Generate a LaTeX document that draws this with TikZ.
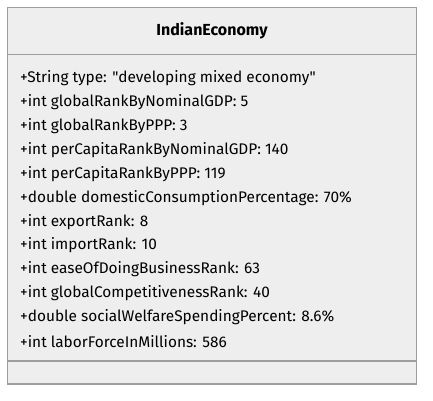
\documentclass[tikz,border=0pt]{standalone}
\usepackage{fontspec}
\setmainfont{Fira Sans}[Ligatures=TeXOff]
\usepackage{tikz}
\definecolor{boxfill}{HTML}{EEEEEE}
\definecolor{boxline}{HTML}{9E9E9E}
\begin{document}
\begin{tikzpicture}[x=1pt,y=-1pt,
   field/.style={anchor=west,inner sep=0pt,font=\fontsize{15.4}{17}\selectfont},
   title/.style={inner sep=0pt,font=\fontsize{16}{18}\bfseries\selectfont}]
   \useasboundingbox (0,0) rectangle (433,400);
   % Box
   \coordinate (nw) at (7.5,7.5);
   \coordinate (se) at (416.5,384);
   \draw[boxline,fill=boxfill,line width=1.5pt] (nw) rectangle (se);
   \coordinate (t1) at (7.5,54.5);
   \coordinate (t2) at (416.5,54.5);
   \draw[boxline,line width=1.3pt] (t1) -- (t2);
   \coordinate (m1) at (7.5,361);
   \coordinate (m2) at (416.5,361);
   \draw[boxline,line width=1.3pt] (m1) -- (m2);
   % Title
   \node[title] (name) at (212,31) {IndianEconomy};
   % Fields
   \node[field] (f1) at (20,78.3) {+String type: "developing mixed economy"};
   \node[field] (f2) at (20,102.2) {+int globalRankByNominalGDP: 5};
   \node[field] (f3) at (20,126.1) {+int globalRankByPPP: 3};
   \node[field] (f4) at (20,150.0) {+int perCapitaRankByNominalGDP: 140};
   \node[field] (f5) at (20,173.9) {+int perCapitaRankByPPP: 119};
   \node[field] (f6) at (20,197.8) {+double domesticConsumptionPercentage: 70\%};
   \node[field] (f7) at (20,221.7) {+int exportRank: 8};
   \node[field] (f8) at (20,245.6) {+int importRank: 10};
   \node[field] (f9) at (20,269.5) {+int easeOfDoingBusinessRank: 63};
   \node[field] (f10) at (20,293.4) {+int globalCompetitivenessRank: 40};
   \node[field] (f11) at (20,317.3) {+double socialWelfareSpendingPercent: 8.6\%};
   \node[field] (f12) at (20,341.2) {+int laborForceInMillions: 586};
\end{tikzpicture}
\end{document}
